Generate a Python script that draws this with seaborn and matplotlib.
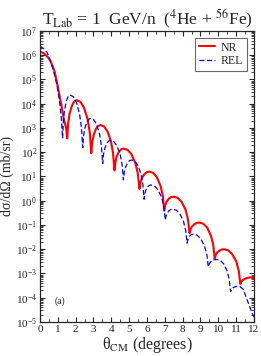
import numpy as np
import pandas as pd
import matplotlib
matplotlib.use("Agg")
import matplotlib.pyplot as plt
import seaborn as sns
from matplotlib.ticker import LogLocator, MultipleLocator, NullFormatter

# Curvas (ângulo em graus, log10 da seção de choque)
theta_nr = [0.0, 0.2, 0.45, 0.6, 0.82, 1.0, 1.2, 1.35, 1.47, 1.53,
            1.58, 1.66, 1.80, 1.93, 2.06, 2.27, 2.47, 2.675, 2.80, 2.88,
            2.93, 3.01, 3.14, 3.27, 3.40, 3.595, 3.79, 3.985, 4.10, 4.18,
            4.23, 4.305, 4.43, 4.555, 4.68, 4.905, 5.13, 5.355, 5.49, 5.58,
            5.64, 5.72, 5.86, 6.00, 6.14, 6.35, 6.555, 6.76, 6.89, 6.97,
            7.02, 7.10, 7.23, 7.36, 7.49, 7.715, 7.94, 8.165, 8.30, 8.39,
            8.45, 8.53, 8.67, 8.81, 8.95, 9.16, 9.38, 9.59, 9.72, 9.80,
            9.85, 9.93, 10.06, 10.19, 10.32, 10.55, 10.78, 11.01, 11.15, 11.24,
            11.30, 11.39, 11.55, 11.70, 11.85, 12.0]
log_nr = [6.15, 6.09, 5.92, 5.75, 5.34, 4.72, 3.95, 3.33, 3.00, 2.57,
          3.17, 3.58, 3.93, 4.10, 4.15, 4.08, 3.84, 3.36, 2.79, 1.96,
          2.40, 2.70, 2.96, 3.09, 3.12, 3.06, 2.86, 2.45, 1.96, 1.25,
          1.59, 1.83, 2.02, 2.12, 2.15, 2.10, 1.92, 1.55, 1.12, 0.49,
          0.76, 0.94, 1.10, 1.18, 1.20, 1.15, 0.97, 0.62, 0.20, -0.41,
          -0.19, -0.04, 0.09, 0.15, 0.17, 0.12, -0.04, -0.37, -0.77, -1.34,
          -1.17, -1.06, -0.96, -0.91, -0.90, -0.95, -1.11, -1.44, -1.83, -2.40,
          -2.25, -2.14, -2.06, -2.01, -2.00, -2.04, -2.20, -2.51, -2.89, -3.43,
          -3.33, -3.26, -3.20, -3.17, -3.16, -3.23]

theta_rel = [0.0, 0.2, 0.4, 0.55, 0.7, 0.85, 0.97, 1.1, 1.2, 1.27,
             1.31, 1.375, 1.48, 1.585, 1.69, 1.87, 2.045, 2.22, 2.33, 2.40,
             2.44, 2.51, 2.62, 2.74, 2.85, 3.02, 3.18, 3.35, 3.45, 3.52,
             3.56, 3.63, 3.74, 3.85, 3.96, 4.14, 4.32, 4.50, 4.61, 4.68,
             4.73, 4.80, 4.92, 5.03, 5.15, 5.32, 5.50, 5.67, 5.77, 5.84,
             5.88, 5.94, 6.03, 6.12, 6.22, 6.42, 6.62, 6.83, 6.95, 7.03,
             7.07, 7.14, 7.24, 7.35, 7.45, 7.65, 7.85, 8.05, 8.17, 8.25,
             8.29, 8.34, 8.43, 8.51, 8.60, 8.81, 9.02, 9.23, 9.36, 9.44,
             9.49, 9.56, 9.68, 9.80, 9.92, 10.11, 10.31, 10.50, 10.61, 10.69,
             10.74, 10.81, 10.93, 11.05, 11.17, 11.4, 11.6, 11.8, 12.0]
log_rel = [6.37, 6.28, 6.12, 5.85, 5.50, 5.10, 4.72, 4.10, 3.40, 2.57,
           3.25, 3.72, 4.11, 4.31, 4.36, 4.29, 4.06, 3.58, 3.01, 2.19,
           2.65, 2.96, 3.23, 3.36, 3.40, 3.34, 3.14, 2.73, 2.24, 1.53,
           1.89, 2.14, 2.36, 2.46, 2.49, 2.44, 2.26, 1.90, 1.48, 0.86,
           1.17, 1.38, 1.57, 1.66, 1.68, 1.63, 1.45, 1.10, 0.68, 0.06,
           0.28, 0.44, 0.57, 0.63, 0.65, 0.61, 0.45, 0.13, -0.25, -0.80,
           -0.63, -0.51, -0.41, -0.36, -0.35, -0.39, -0.55, -0.85, -1.22, -1.75,
           -1.61, -1.51, -1.43, -1.39, -1.38, -1.42, -1.57, -1.87, -2.22, -2.73,
           -2.61, -2.53, -2.46, -2.43, -2.42, -2.46, -2.61, -2.90, -3.24, -3.75,
           -3.66, -3.60, -3.55, -3.53, -3.52, -3.65, -4.05, -4.45, -4.80]

sns.set_style("ticks")
plt.rcParams['font.family'] = ['Liberation Serif', 'DejaVu Serif']
plt.rcParams['mathtext.fontset'] = 'stix'
plt.rcParams['xtick.direction'] = 'in'
plt.rcParams['ytick.direction'] = 'in'

df_nr = pd.DataFrame({'theta': theta_nr, 'sigma': 10.0 ** np.array(log_nr)})
df_rel = pd.DataFrame({'theta': theta_rel, 'sigma': 10.0 ** np.array(log_rel)})

fig = plt.figure(figsize=(2.61, 3.56), dpi=100)
ax = fig.add_axes([0.153, 0.0955, 0.82, 0.8175])

sns.lineplot(data=df_nr, x='theta', y='sigma', ax=ax, color='#ff0000',
             linewidth=1.5, label='NR')
sns.lineplot(data=df_rel, x='theta', y='sigma', ax=ax, color='#0000ff',
             linewidth=0.9, linestyle=(0, (4, 2)), label='REL')

ax.set_yscale('log')
ax.set_xlim(0, 12)
ax.set_ylim(1e-5, 1e7)
ax.xaxis.set_major_locator(MultipleLocator(1))
ax.xaxis.set_minor_locator(MultipleLocator(0.5))
ax.yaxis.set_major_locator(LogLocator(base=10, numticks=20))
ax.yaxis.set_minor_locator(LogLocator(base=10, subs=np.arange(2, 10), numticks=20))
ax.yaxis.set_minor_formatter(NullFormatter())
ax.tick_params(which='both', top=True, right=True, labelsize=8, pad=2)
ax.tick_params(which='major', length=3.5, width=0.8)
ax.tick_params(which='minor', length=2, width=0.6)
for s in ax.spines.values():
    s.set_linewidth(0.9)

ax.set_xlabel(r'θ$_{\rm CM}$ (degrees)', fontsize=11.5, labelpad=1)
ax.set_ylabel('dσ/dΩ (mb/sr)', fontsize=10, labelpad=1)
ax.set_title(r'T$_{\rm Lab}$ = 1  GeV/n  ($^{4}$He + $^{56}$Fe)', fontsize=12.5, pad=4)
ax.text(0.85, 7e-5, '(a)', fontsize=7, va='center')

leg = ax.legend(loc='upper right', fontsize=8.5, frameon=True, fancybox=False,
                handlelength=1.4, handletextpad=0.5, borderpad=0.3,
                labelspacing=0.15, borderaxespad=0.6)
leg.get_frame().set_edgecolor('#444444')
leg.get_frame().set_linewidth(0.8)

fig.savefig('out.png', dpi=100)
